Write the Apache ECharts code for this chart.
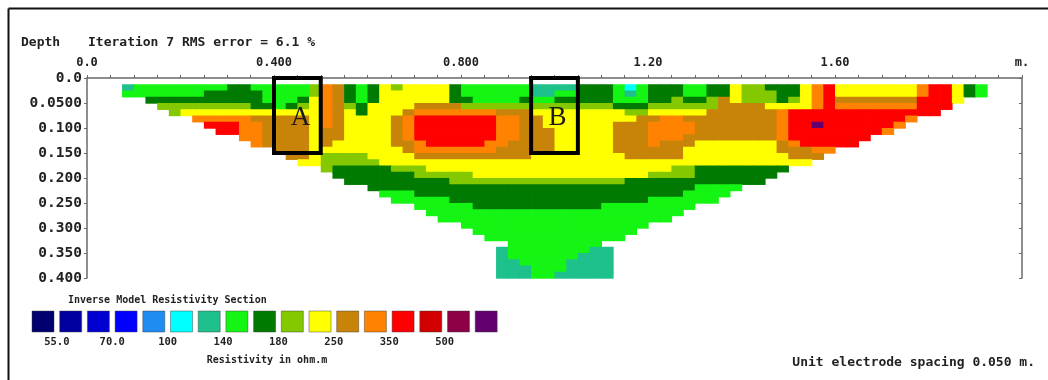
<!DOCTYPE html>
<html><head><meta charset="utf-8">
<script src="https://cdn.jsdelivr.net/npm/echarts@6/dist/echarts.min.js"></script>
<style>html,body{margin:0;padding:0;background:#fff}#c{width:1048px;height:380px}</style>
</head><body><div id="c"></div>
<script>
// ---------- data ----------
const distanceLabelTicks = [0, 0.4, 0.8, 1.2, 1.6, 2.0];
const distanceLabelTexts = ['0.0', '0.400', '0.800', '1.20', '1.60', 'm.'];
const depthLabelTicks = [0, 0.05, 0.1, 0.15, 0.2, 0.25, 0.3, 0.35, 0.4];
const depthLabelTexts = ['0.0', '0.0500', '0.100', '0.150', '0.200', '0.250', '0.300', '0.350', '0.400'];

// resistivity class boundaries (ohm.m) between the 17 colour classes
const classBoundaries = [55, 62, 70, 84, 100, 118, 140, 159, 180, 212, 250, 296, 350, 418, 500, 590];
const classColors = ['#00006e', '#0000a0', '#0000d2', '#0000ff', '#1e8cf0', '#00ffff', '#1ec08c', '#14f514',
  '#007a00', '#84c800', '#ffff00', '#c88408', '#ff8200', '#ff0000', '#d20000', '#8c0046', '#64006e'];
const classCodes = 'abcdefghijklmnopq';
const classValues = [50, 58, 66, 77, 92, 109, 129, 150, 169, 195, 230, 272, 322, 383, 457, 545, 640];
const legendLabelBoundaries = [1, 3, 5, 7, 9, 11, 13, 15];
const legendLabelTexts = ['55.0', '70.0', '100', '140', '180', '250', '350', '500'];

// model section: one entry per depth layer, [first column, class code per column]
const sectionRows = [
  [0, 'ghhhhhhhhiihhhhhjmlihikjkkkkihhhhhhggggiiihfhiiihhiikjjiiikmnkkkkkkkmnnkih'],
  [0, 'hhhhhhhiiiiihhhhjmlihikkkkkkihhhhhhgghhiiihghiiihhiikjjjiikmnkkkkkkkmnnkih'],
  [2, 'iiiiiiiiiihhhikmlihikkkkkkiihhhhihhiiiiihhhiijiijlkjjjijkmnlllllllnnnk'],
  [3, 'jjjjjjjjiihijkmljikkkklllljjjjjjjjjjjjjiiijjjjjjllllkkkkmnmmmmmmmnnn'],
  [4, 'jkkkkkkkkkkkkmlkikkklmmmmmmmlllkkkkkkkkjjkkkkkllllllmnnnnnnnnnnnnn'],
  [6, 'mmmmmlllllkmlkkkklmnnnnnnnmmllkkkkkkkkllmmllllllllmnnnnnnnnnnm'],
  [7, 'nnnmmllllkmlkkkklmnnnnnnnmmllkkkkkklllmmmmlllllllmnnqnnnnnnm'],
  [8, 'nnmmllllkllkkkklmnnnnnnnmmlllkkkkklllmmmmlllllllmnnnnnnnnm'],
  [10, 'mmllllkllkkkklmnnnnnnnmmlllkkkkklllmmmllllllllmnnnnnnn'],
  [11, 'mllllklkkkkkllmnnnnnmmllllkkkkklllmlllkkkkkkklmnnnnn'],
  [13, 'lllkkkkkkkklmmmmmmmlllllkkkkkllllllkkkkkkkklllmm'],
  [14, 'llkjjjjkkkkllllllllllkkkkkkkklllllkkkkkkkkklll'],
  [15, 'kkjjjjjkkkkkkkkkkkkkkkkkkkkkkkkkkkkkkkkkkkkk'],
  [17, 'jiiiiijjjkkkkkkkkkkkkkkkkkkkkkjjiiiiiiii'],
  [18, 'iiiiiiijjjjjkkkkkkkkkkkkkkkjjjjiiiiiii'],
  [19, 'iiiiiiiiijjjjjjjjjjjjjjjiiiiiiiiiiii'],
  [21, 'iiiiiiiiiiiiiiiiiiiiiiiiiiiihhhh'],
  [22, 'hhhiiiiiiiiiiiiiiiiiiiiiiihhhh'],
  [23, 'hhhhhiiiiiiiiiiiiiiiiihhhhhh'],
  [25, 'hhhhhiiiiiiiiiiihhhhhhhh'],
  [26, 'hhhhhhhhhhhhhhhhhhhhhh'],
  [27, 'hhhhhhhhhhhhhhhhhhhh'],
  [29, 'hhhhhhhhhhhhhhhh'],
  [30, 'hhhhhhhhhhhhhh'],
  [31, 'hhhhhhhhhhhh'],
  [33, 'hhhhhhhh'],
  [32, 'ghhhhhhhgg'],
  [32, 'ghhhhhhggg'],
  [32, 'gghhhhgggg'],
  [32, 'ggghhhgggg'],
  [32, 'ggghhggggg']
];
// model grid geometry (metres)
const modelX0 = 0.075, modelDX = 0.025, modelD0 = 0.0125, modelDD = 0.0125;

// marked zones A and B: [x0, depth0, x1, depth1]
const annotationNames = ['A', 'B'];
const annotationBoxes = [[0.4, 0, 0.5, 0.15], [0.95, 0, 1.05, 0.15]];

// ---------- build ----------
const modelData = [];
sectionRows.forEach(function (row, r) {
  const start = row[0], codes = row[1];
  for (let i = 0; i < codes.length; i++) {
    const cls = classCodes.indexOf(codes[i]);
    if (cls < 0) continue;
    modelData.push([modelX0 + (start + i + 0.5) * modelDX, modelD0 + (r + 0.5) * modelDD, classValues[cls]]);
  }
});
const pieces = classColors.map(function (color, i) {
  const p = { color: color };
  if (i > 0) p.gte = classBoundaries[i - 1];
  if (i < classBoundaries.length) p.lt = classBoundaries[i];
  return p;
});
function pick(ticks, texts) {
  return function (v) {
    for (let i = 0; i < ticks.length; i++) if (Math.abs(ticks[i] - v) < 1e-6) return texts[i];
    return '';
  };
}
const MONO = '"DejaVu Sans Mono", "Liberation Mono", monospace';
const axisGray = '#6a6a6a';

const chart = echarts.init(document.getElementById('c'));
chart.setOption({
  animation: false,
  backgroundColor: '#fff',
  grid: [
    { left: 87, top: 78, width: 935, height: 200 },
    { left: 29.15, top: 311, width: 470.9, height: 21 }
  ],
  xAxis: [
    { gridIndex: 0, type: 'value', position: 'top', min: 0, max: 2, interval: 0.05,
      axisLine: { show: true, onZero: false, lineStyle: { color: axisGray, width: 1.5 } },
      axisTick: { show: true, length: 3, lineStyle: { color: axisGray } },
      splitLine: { show: false },
      axisLabel: { show: true, margin: 9, formatter: pick(distanceLabelTicks, distanceLabelTexts),
        fontFamily: MONO, fontWeight: 'bold', fontSize: 12, color: '#222' } },
    { gridIndex: 1, type: 'category', data: classValues.map(function (v, i) { return i; }), show: false },
    { gridIndex: 1, type: 'value', min: 0, max: 17, interval: 1, position: 'bottom',
      axisLine: { show: false }, axisTick: { show: false }, splitLine: { show: false },
      axisLabel: { show: true, margin: 5, formatter: pick(legendLabelBoundaries, legendLabelTexts),
        fontFamily: MONO, fontWeight: 'bold', fontSize: 10.5, color: '#222' } }
  ],
  yAxis: [
    { gridIndex: 0, type: 'value', inverse: true, min: 0, max: 0.4, interval: 0.05,
      axisLine: { show: true, onZero: false, lineStyle: { color: axisGray, width: 1.5 } },
      axisTick: { show: true, length: 3, lineStyle: { color: axisGray } },
      splitLine: { show: false },
      axisLabel: { show: true, margin: 5, formatter: pick(depthLabelTicks, depthLabelTexts),
        fontFamily: MONO, fontWeight: 'bold', fontSize: 14.5, color: '#222' } },
    { gridIndex: 0, type: 'value', inverse: true, min: 0, max: 0.4, interval: 0.05, position: 'right',
      axisLine: { show: true, onZero: false, lineStyle: { color: axisGray, width: 1.5 } },
      axisTick: { show: true, inside: true, length: 3, lineStyle: { color: axisGray } },
      splitLine: { show: false }, axisLabel: { show: false } },
    { gridIndex: 1, type: 'category', data: [''], show: false }
  ],
  visualMap: {
    type: 'piecewise', show: false, dimension: 2, seriesIndex: [0, 1], pieces: pieces
  },
  series: [
    { type: 'custom', name: 'model', xAxisIndex: 0, yAxisIndex: 0, data: modelData,
      encode: { x: 0, y: 1 },
      renderItem: function (params, api) {
        const x = api.value(0), d = api.value(1);
        const p0 = api.coord([x - modelDX / 2, d - modelDD / 2]);
        const p1 = api.coord([x + modelDX / 2, d + modelDD / 2]);
        return { type: 'rect',
          shape: { x: p0[0], y: p0[1], width: p1[0] - p0[0] + 0.7, height: p1[1] - p0[1] + 0.7 },
          style: { fill: api.visual('color') } };
      } },
    { type: 'custom', name: 'legend', xAxisIndex: 1, yAxisIndex: 2,
      data: classValues.map(function (v, i) { return [i, 0, v]; }),
      encode: { x: 0, y: 1 },
      renderItem: function (params, api) {
        const c = api.coord([api.value(0), 0]);
        const band = api.size([1, 0])[0];
        const w = band - 5.7, h = 21;
        return { type: 'rect', shape: { x: c[0] - w / 2, y: c[1] - h / 2, width: w, height: h },
          style: { fill: api.visual('color'), stroke: 'rgba(60,60,60,0.45)', lineWidth: 1 } };
      } },
    { type: 'custom', name: 'zones', xAxisIndex: 0, yAxisIndex: 0, z: 5, data: annotationBoxes,
      renderItem: function (params, api) {
        const p0 = api.coord([api.value(0), api.value(1)]);
        const p1 = api.coord([api.value(2), api.value(3)]);
        return { type: 'group', children: [
          { type: 'rect', shape: { x: p0[0], y: p0[1], width: p1[0] - p0[0], height: p1[1] - p0[1] },
            style: { fill: 'transparent', stroke: '#000', lineWidth: 4 } },
          { type: 'text', x: (p0[0] + p1[0]) / 2 + 3, y: (p0[1] + p1[1]) / 2 + 2,
            style: { text: annotationNames[params.dataIndex], align: 'center', verticalAlign: 'middle',
              fontFamily: '"Liberation Serif", "DejaVu Serif", serif', fontSize: 27, fill: '#1a1a1a' } }
        ] };
      } }
  ],
  graphic: [
    { type: 'line', shape: { x1: 8.5, y1: 8.5, x2: 1048, y2: 8.5 }, style: { stroke: '#111', lineWidth: 2 } },
    { type: 'line', shape: { x1: 8.5, y1: 8.5, x2: 8.5, y2: 380 }, style: { stroke: '#111', lineWidth: 2 } },
    { type: 'text', x: 21, y: 43, style: { text: 'Depth', font: 'bold 13px ' + MONO, fill: '#222', verticalAlign: 'middle' } },
    { type: 'text', x: 88, y: 43, style: { text: 'Iteration 7 RMS error = 6.1 %', font: 'bold 13px ' + MONO, fill: '#222', verticalAlign: 'middle' } },
    { type: 'text', x: 68, y: 300, style: { text: 'Inverse Model Resistivity Section', font: 'bold 10px ' + MONO, fill: '#222', verticalAlign: 'middle' } },
    { type: 'text', x: 267, y: 360, style: { text: 'Resistivity in ohm.m', font: 'bold 10px ' + MONO, fill: '#222', align: 'center', verticalAlign: 'middle' } },
    { type: 'text', x: 1035, y: 363, style: { text: 'Unit electrode spacing 0.050 m.', font: 'bold 13px ' + MONO, fill: '#222', align: 'right', verticalAlign: 'middle' } }
  ]
});
</script></body></html>
